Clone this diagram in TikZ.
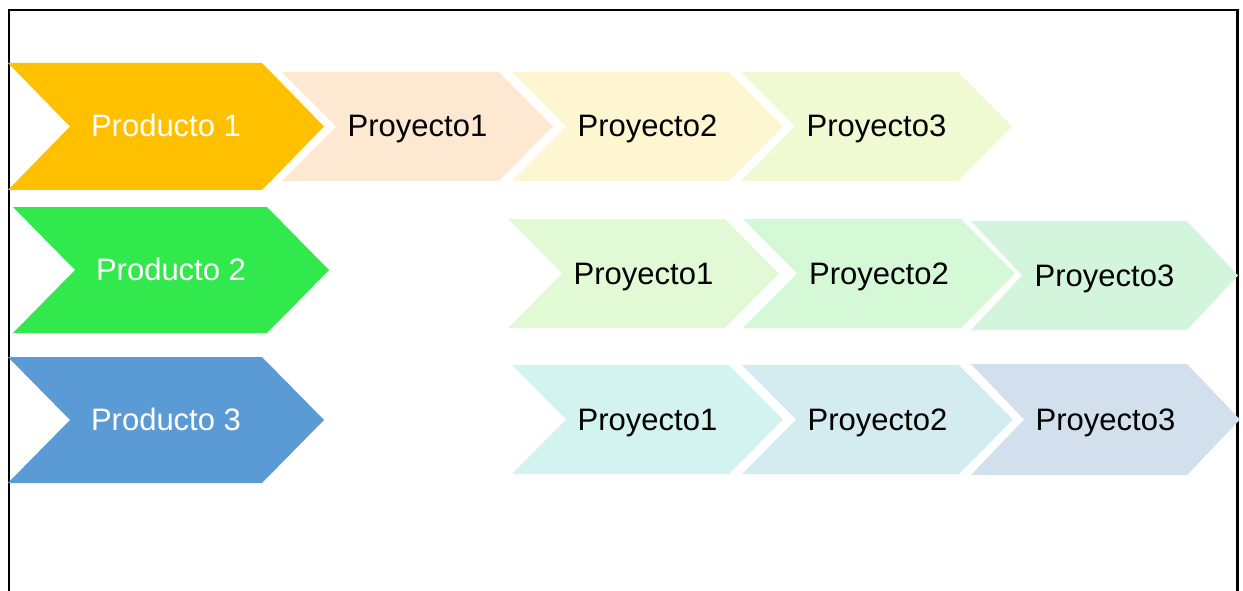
\documentclass[tikz,border=0pt]{standalone}
\usepackage{fontspec}
\setmainfont{Liberation Sans}
\definecolor{prodA}{HTML}{FFC000}
\definecolor{prodB}{HTML}{31E94C}
\definecolor{prodC}{HTML}{5B9BD5}
\definecolor{rowAa}{HTML}{FDE9D2}
\definecolor{rowAb}{HTML}{FDF6D0}
\definecolor{rowAc}{HTML}{F0FAD2}
\definecolor{rowBa}{HTML}{E2F9D5}
\definecolor{rowBb}{HTML}{D5F8D6}
\definecolor{rowBc}{HTML}{D2F5DC}
\definecolor{rowCa}{HTML}{D3F3F0}
\definecolor{rowCb}{HTML}{D4EBF0}
\definecolor{rowCc}{HTML}{D2DFEC}
\tikzset{
  frameline/.style={line width=2.5pt, black},
  label/.style={font=\fontsize{31}{37}\selectfont, anchor=base, inner sep=0pt},
  prodlabel/.style={label, text=white},
  projlabel/.style={label, text=black},
}
% #1 name, #2 left, #3 top, #4 bottom, #5 flat width, #6 point depth,
% #7 fill, #8 label style, #9 text
\newcommand{\chevshape}[9]{%
  \fill[#7] (#2,#3) -- ({#2+#5},#3) -- ({#2+#5+#6},{(#3+#4)/2})
     -- ({#2+#5},#4) -- (#2,#4) -- ({#2+#6},{(#3+#4)/2}) -- cycle;
  \node[#8] (#1) at ({#2+(#5+#6)/2},{(#3+#4)/2+10.5}) {#9};
}
\begin{document}
\begin{tikzpicture}[x=1pt,y=-1pt]
\useasboundingbox (0,0) rectangle (1243,591);
% frame, open at the bottom
\draw[frameline] (9,591) -- (9,10) -- (1237.5,10) -- (1237.5,591);

% products
\chevshape{prod1}{8}{63}{190}{254}{62}{prodA}{prodlabel}{Producto 1}
\chevshape{prod2}{13}{207}{333}{254}{62}{prodB}{prodlabel}{Producto 2}
\chevshape{prod3}{8}{357}{483}{254}{62}{prodC}{prodlabel}{Producto 3}

% projects of product 1
\chevshape{p1a}{282}{72}{181}{217}{54}{rowAa}{projlabel}{Proyecto1}
\chevshape{p1b}{512}{72}{181}{217}{54}{rowAb}{projlabel}{Proyecto2}
\chevshape{p1c}{741}{72}{181}{217}{54}{rowAc}{projlabel}{Proyecto3}

% projects of product 2
\chevshape{p2a}{508}{219}{328}{217}{54}{rowBa}{projlabel}{Proyecto1}
\chevshape{p2b}{743}{219}{328}{218}{54}{rowBb}{projlabel}{Proyecto2}
\chevshape{p2c}{971}{221}{330}{216}{51}{rowBc}{projlabel}{Proyecto3}

% projects of product 3
\chevshape{p3a}{512}{365}{474}{217}{54}{rowCa}{projlabel}{Proyecto1}
\chevshape{p3b}{742}{365}{474}{217}{54}{rowCb}{projlabel}{Proyecto2}
\chevshape{p3c}{971}{364}{475}{216}{53}{rowCc}{projlabel}{Proyecto3}
\end{tikzpicture}
\end{document}
